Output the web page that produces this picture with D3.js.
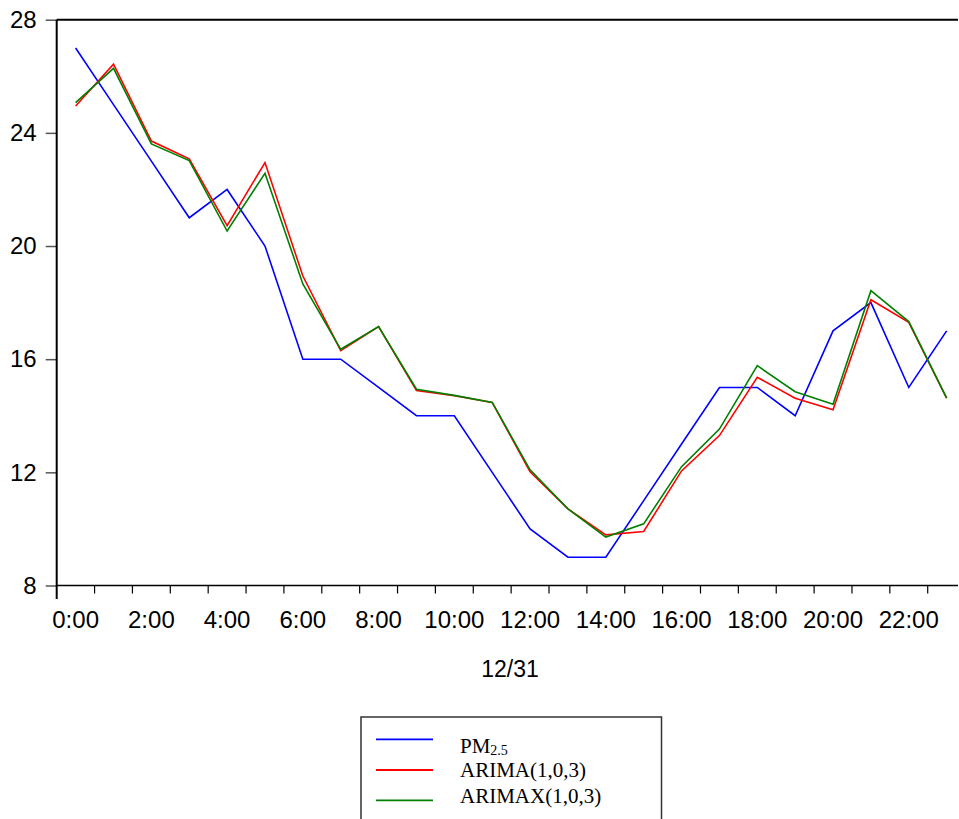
<!DOCTYPE html>
<html>
<head>
<meta charset="utf-8">
<script src="https://cdn.jsdelivr.net/npm/d3@7"></script>
<style>
    body { margin: 0; background: #fff; }
    #chart svg { display: block; }
    .tick-label { font-family: "Liberation Sans", Arial, sans-serif; font-size: 24px; fill: #000; }
    .legend-text { font-family: "Liberation Serif", "Times New Roman", serif; font-size: 21px; fill: #000; }
</style>
</head>
<body>
<div id="chart"></div>
<script>
// Hourly labels on 12/31
const hours = ['0:00', '1:00', '2:00', '3:00', '4:00', '5:00', '6:00', '7:00', '8:00', '9:00', '10:00', '11:00',
    '12:00', '13:00', '14:00', '15:00', '16:00', '17:00', '18:00', '19:00', '20:00', '21:00', '22:00', '23:00'];

// Observed PM2.5
const pm25 = [27, 25, 23, 21, 22, 20, 16, 16, 15, 14, 14, 12, 10, 9, 9, 11, 13, 15, 15, 14, 17, 18, 15, 17];

// ARIMA(1,0,3) forecast
const arima = [24.95, 26.43, 23.71, 23.08, 20.72, 22.95, 18.94, 16.30, 17.15, 14.89, 14.71, 14.47,
    12.02, 10.71, 9.79, 9.91, 12.05, 13.30, 15.36, 14.62, 14.21, 18.10, 17.30, 14.62];

// ARIMAX(1,0,3) forecast
const arimax = [25.07, 26.28, 23.61, 23.02, 20.53, 22.57, 18.66, 16.35, 17.15, 14.94, 14.72, 14.47,
    12.09, 10.71, 9.71, 10.18, 12.20, 13.53, 15.77, 14.85, 14.41, 18.42, 17.33, 14.62];

const yTicks = [8, 12, 16, 20, 24, 28];
const dateLabel = '12/31';

const width = 959, height = 819;
const plot = { left: 56.7, right: 958, top: 19.7, bottom: 585.5 };

const svg = d3.select('#chart')
    .append('svg')
    .attr('width', width)
    .attr('height', height);

// Each hour gets its own band, points sit in the middle (EViews style)
const x = d3.scaleBand()
    .domain(hours)
    .range([plot.left, plot.left + 24 * 37.87])
    .paddingInner(0)
    .paddingOuter(0);

const y = d3.scaleLinear()
    .domain([8, 28])
    .range([plot.bottom, plot.top]);

const cx = (d, i) => x(hours[i]) + x.bandwidth() / 2;

// Y axis: grey ticks and labels on the left
const yAxis = svg.append('g')
    .attr('transform', `translate(${plot.left},0)`)
    .call(d3.axisLeft(y).tickValues(yTicks).tickSize(11).tickPadding(9).tickFormat(d3.format('d')));
yAxis.attr('font-family', null).attr('font-size', null);
yAxis.select('.domain').remove();
yAxis.selectAll('.tick line').attr('stroke', '#555').attr('stroke-width', 1.5);
yAxis.selectAll('.tick text').attr('class', 'tick-label');

// X axis: ticks at band boundaries, labels every second hour
const xAxis = svg.append('g')
    .attr('transform', `translate(0,${plot.bottom})`);
xAxis.selectAll('line')
    .data(hours.slice(1))
    .enter()
    .append('line')
    .attr('x1', d => x(d))
    .attr('x2', d => x(d))
    .attr('y1', 0)
    .attr('y2', 8)
    .attr('stroke', '#000')
    .attr('stroke-width', 1.2);
xAxis.selectAll('text')
    .data(hours.filter((d, i) => i % 2 === 0))
    .enter()
    .append('text')
    .attr('class', 'tick-label')
    .attr('x', d => x(d) + x.bandwidth() / 2)
    .attr('y', 628 - plot.bottom)
    .attr('text-anchor', 'middle')
    .text(d => d);

svg.append('text')
    .attr('class', 'tick-label')
    .attr('x', 510)
    .attr('y', 677)
    .attr('text-anchor', 'middle')
    .style('font-size', '23px')
    .text(dateLabel);

// Frame: left, top and bottom lines
svg.append('line')
    .attr('x1', plot.left).attr('x2', plot.left)
    .attr('y1', plot.top).attr('y2', 599)
    .attr('stroke', '#000').attr('stroke-width', 2);
svg.append('line')
    .attr('x1', plot.left).attr('x2', plot.right)
    .attr('y1', plot.top).attr('y2', plot.top)
    .attr('stroke', '#000').attr('stroke-width', 2);
svg.append('line')
    .attr('x1', plot.left).attr('x2', plot.right)
    .attr('y1', plot.bottom).attr('y2', plot.bottom)
    .attr('stroke', '#000').attr('stroke-width', 1.6);

// Series lines
const series = [
    { name: 'PM', values: pm25, color: '#0000ff' },
    { name: 'ARIMA(1,0,3)', values: arima, color: '#ff0000' },
    { name: 'ARIMAX(1,0,3)', values: arimax, color: '#008000' }
];

const line = d3.line()
    .x(cx)
    .y(d => y(d));

svg.append('g')
    .selectAll('path')
    .data(series)
    .enter()
    .append('path')
    .attr('d', d => line(d.values))
    .attr('fill', 'none')
    .attr('stroke', d => d.color)
    .attr('stroke-width', 1.6)
    .attr('stroke-linejoin', 'miter');

// Legend box (runs off the bottom edge like the original)
const legend = svg.append('g');
legend.append('rect')
    .attr('x', 361)
    .attr('y', 717)
    .attr('width', 300.5)
    .attr('height', 120)
    .attr('fill', '#fff')
    .attr('stroke', '#333')
    .attr('stroke-width', 1.5);

const lineYs = [739.3, 770, 800.3];
const textYs = [753, 777, 803];

legend.selectAll('line')
    .data(series)
    .enter()
    .append('line')
    .attr('x1', 376)
    .attr('x2', 433)
    .attr('y1', (d, i) => lineYs[i])
    .attr('y2', (d, i) => lineYs[i])
    .attr('stroke', d => d.color)
    .attr('stroke-width', 1.8);

const labels = legend.selectAll('text')
    .data(series)
    .enter()
    .append('text')
    .attr('class', 'legend-text')
    .attr('x', 460)
    .attr('y', (d, i) => textYs[i])
    .text(d => d.name);

// PM gets a small "2.5" subscript
labels.filter((d, i) => i === 0)
    .append('tspan')
    .attr('dy', 2)
    .style('font-size', '14px')
    .text('2.5');
</script>
</body>
</html>
